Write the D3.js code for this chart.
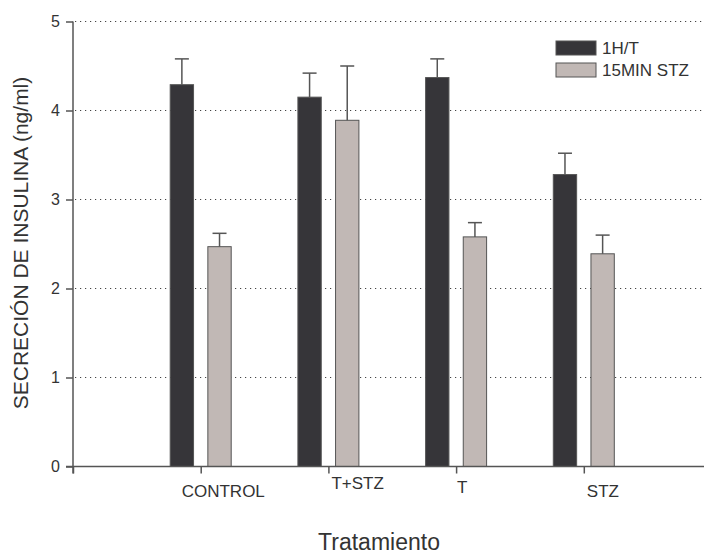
<!DOCTYPE html>
<html>
<head>
<meta charset="utf-8">
<script src="https://cdn.jsdelivr.net/npm/d3@7"></script>
<style>
  html, body { margin: 0; padding: 0; background: #fff; }
  svg { display: block; font-family: "Liberation Sans", Arial, sans-serif; }
</style>
</head>
<body>
<svg id="chart" width="704" height="555"></svg>
<script>
// Insulin secretion per treatment, two exposure times (mean + SE)
const categories = ["CONTROL", "T+STZ", "T", "STZ"];
const seriesNames = ["1H/T", "15MIN STZ"];
const meanHT = [4.29, 4.15, 4.37, 3.28];
const seHT = [0.29, 0.27, 0.21, 0.24];
const meanSTZ = [2.47, 3.89, 2.58, 2.39];
const seSTZ = [0.15, 0.61, 0.16, 0.21];
const yTicks = [0, 1, 2, 3, 4, 5];

const means = [meanHT, meanSTZ];
const errs = [seHT, seSTZ];
const fills = ["#363539", "#c1b8b5"];
const ink = "#555";
const textColor = "#333";

const svg = d3.select("#chart");

// Categories sit at 1..4 on a 0..5 axis; ticks at every integer
const x = d3.scaleLinear().domain([0, 5]).range([73, 711.5]);
const y = d3.scaleLinear().domain([0, 5]).range([466.5, 21.5]);
const inner = d3.scaleBand().domain(seriesNames).range([-30.5, 30.5]).paddingInner(0.38);

// dotted horizontal gridlines
svg.append("g")
  .selectAll("line")
  .data(yTicks.filter(d => d > 0))
  .join("line")
  .attr("x1", x(0) + 2).attr("x2", 704)
  .attr("y1", d => y(d)).attr("y2", d => y(d))
  .attr("stroke", "#444").attr("stroke-width", 1.2)
  .attr("stroke-dasharray", "1.2,3.8");

// bars
const rows = [];
categories.forEach((c, i) => {
  seriesNames.forEach((s, j) => {
    rows.push({ cat: i, series: s, idx: j, v: means[j][i], e: errs[j][i] });
  });
});

const bars = svg.append("g");
bars.selectAll("rect")
  .data(rows)
  .join("rect")
  .attr("x", d => x(d.cat + 1) + inner(d.series))
  .attr("width", inner.bandwidth())
  .attr("y", d => y(d.v))
  .attr("height", d => y(0) - y(d.v))
  .attr("fill", d => fills[d.idx])
  .attr("stroke", ink)
  .attr("stroke-width", 1);

// upper error bars
const eb = svg.append("g").attr("stroke", ink).attr("stroke-width", 1.5);
eb.selectAll("line.v")
  .data(rows)
  .join("line")
  .attr("class", "v")
  .attr("x1", d => x(d.cat + 1) + inner(d.series) + inner.bandwidth() / 2)
  .attr("x2", d => x(d.cat + 1) + inner(d.series) + inner.bandwidth() / 2)
  .attr("y1", d => y(d.v))
  .attr("y2", d => y(d.v + d.e));
eb.selectAll("line.c")
  .data(rows)
  .join("line")
  .attr("class", "c")
  .attr("x1", d => x(d.cat + 1) + inner(d.series) + inner.bandwidth() / 2 - 7)
  .attr("x2", d => x(d.cat + 1) + inner(d.series) + inner.bandwidth() / 2 + 7)
  .attr("y1", d => y(d.v + d.e))
  .attr("y2", d => y(d.v + d.e));

// y axis
const yAxis = svg.append("g")
  .attr("transform", `translate(${x(0)},0)`)
  .call(d3.axisLeft(y).tickValues(yTicks).tickFormat(d3.format("d")).tickSize(7).tickPadding(6));
yAxis.select(".domain").attr("d", `M0,${y(5)}V${y(0) + 7}`);
yAxis.selectAll("path, line").attr("stroke", ink).attr("stroke-width", 1.5);
yAxis.selectAll("text").attr("font-size", 16).attr("fill", textColor)
  .attr("font-family", "Liberation Sans, Arial, sans-serif");

// x axis
const xAxis = svg.append("g")
  .attr("transform", `translate(0,${y(0)})`)
  .call(d3.axisBottom(x).tickValues([0, 1, 2, 3, 4, 5]).tickFormat("").tickSize(7));
xAxis.select(".domain").attr("d", `M${x(0) - 7},0H704`);
xAxis.selectAll("path, line").attr("stroke", ink).attr("stroke-width", 1.5);

// category labels, each nudged from its tick
const labelShift = [[-19, 30], [3, 22], [1, 26], [3, 30]];
svg.append("g")
  .selectAll("text")
  .data(categories)
  .join("text")
  .attr("x", (d, i) => x(i + 1) + labelShift[i][0])
  .attr("y", (d, i) => y(0) + labelShift[i][1])
  .attr("font-size", 17)
  .attr("fill", textColor)
  .text(d => d);

// axis titles
svg.append("text")
  .attr("transform", "translate(28,243) rotate(-90)")
  .attr("text-anchor", "middle")
  .attr("font-size", 21)
  .attr("fill", textColor)
  .text("SECRECIÓN DE INSULINA (ng/ml)");

svg.append("text")
  .attr("x", 379)
  .attr("y", 550)
  .attr("text-anchor", "middle")
  .attr("font-size", 23)
  .attr("fill", textColor)
  .text("Tratamiento");

// legend
const legend = svg.append("g").attr("transform", "translate(556,41)");
const li = legend.selectAll("g")
  .data(seriesNames)
  .join("g")
  .attr("transform", (d, i) => `translate(0,${i * 22})`);
li.append("rect")
  .attr("width", 40).attr("height", 14)
  .attr("fill", (d, i) => fills[i])
  .attr("stroke", ink).attr("stroke-width", 1);
li.append("text")
  .attr("x", 46).attr("y", 13)
  .attr("font-size", 17)
  .attr("fill", textColor)
  .text(d => d);
</script>
</body>
</html>
